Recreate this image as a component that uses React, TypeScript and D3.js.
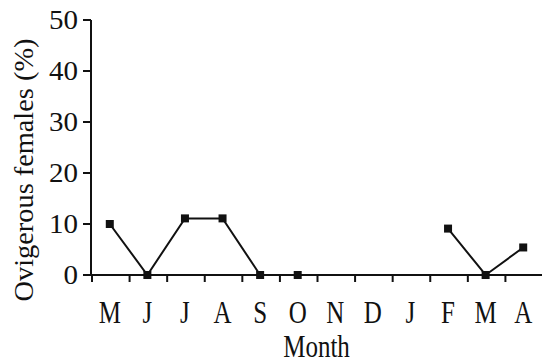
import React, { useRef, useEffect } from "react";
import * as d3 from "d3";

// Monthly share of ovigerous females; null = no sample that month
const months = ["M", "J", "J", "A", "S", "O", "N", "D", "J", "F", "M", "A"];
const ovigerous: (number | null)[] = [10, 0, 11.1, 11.1, 0, 0, null, null, null, 9.1, 0, 5.4];
const yTicks = [0, 10, 20, 30, 40, 50];

const WIDTH = 543;
const HEIGHT = 364;
const margin = { top: 20, right: 1, bottom: 89, left: 91 };

const App: React.FC = () => {
  const svgRef = useRef<SVGSVGElement>(null);

  useEffect(() => {
    if (!svgRef.current) return;
    const svg = d3.select(svgRef.current);
    svg.selectAll("*").remove();

    const font = "'Liberation Serif', 'Times New Roman', serif";
    const x0 = margin.left;
    const x1 = WIDTH - margin.right;
    const y0 = HEIGHT - margin.bottom;
    const y1 = margin.top;

    const xScale = d3
      .scaleBand<number>()
      .domain(months.map((_, i) => i))
      .range([x0, x1]);

    const yScale = d3.scaleLinear().domain([0, 50]).range([y0, y1]);

    const g = svg.append("g");

    // y axis
    g.append("line")
      .attr("x1", x0)
      .attr("x2", x0)
      .attr("y1", y1)
      .attr("y2", y0)
      .attr("stroke", "#111")
      .attr("stroke-width", 2);

    yTicks.forEach((t) => {
      const y = yScale(t);
      g.append("line")
        .attr("x1", x0 - 8)
        .attr("x2", x0)
        .attr("y1", y)
        .attr("y2", y)
        .attr("stroke", "#111")
        .attr("stroke-width", 2);
      g.append("text")
        .attr("transform", `translate(${x0 - 13},${y + 9}) scale(1,0.95)`)
        .attr("text-anchor", "end")
        .attr("font-family", font)
        .attr("font-size", 29)
        .attr("fill", "#111")
        .text(t);
    });

    // x axis
    g.append("line")
      .attr("x1", x0)
      .attr("x2", x1)
      .attr("y1", y0)
      .attr("y2", y0)
      .attr("stroke", "#111")
      .attr("stroke-width", 2);

    months.forEach((m, i) => {
      const left = xScale(i) || 0;
      g.append("line")
        .attr("x1", left + 1)
        .attr("x2", left + 1)
        .attr("y1", y0)
        .attr("y2", y0 + 7)
        .attr("stroke", "#111")
        .attr("stroke-width", 2);
      g.append("text")
        .attr("transform", `translate(${left + xScale.bandwidth() / 2},${y0 + 48}) scale(1,1.25)`)
        .attr("text-anchor", "middle")
        .attr("font-family", font)
        .attr("font-size", 25)
        .attr("fill", "#111")
        .text(m);
    });

    // axis titles
    g.append("text")
      .attr("transform", `translate(${(x0 + x1) / 2},${y0 + 82}) scale(1,1.25)`)
      .attr("text-anchor", "middle")
      .attr("font-family", font)
      .attr("font-size", 25)
      .attr("fill", "#111")
      .text("Month");

    g.append("text")
      .attr("transform", `translate(33,170) scale(1,1.05) rotate(-90)`)
      .attr("text-anchor", "middle")
      .attr("font-family", font)
      .attr("font-size", 27)
      .attr("fill", "#111")
      .text("Ovigerous females (%)");

    // data line with gaps
    const pts = ovigerous.map((v, i) => ({ i, v }));
    const line = d3
      .line<{ i: number; v: number | null }>()
      .defined((d) => d.v !== null)
      .x((d) => (xScale(d.i) || 0) + xScale.bandwidth() / 2)
      .y((d) => yScale(d.v as number));

    g.append("path")
      .datum(pts)
      .attr("fill", "none")
      .attr("stroke", "#111")
      .attr("stroke-width", 2)
      .attr("d", line);

    const size = 8;
    g.selectAll("rect.marker")
      .data(pts.filter((d) => d.v !== null))
      .enter()
      .append("rect")
      .attr("class", "marker")
      .attr("x", (d) => (xScale(d.i) || 0) + xScale.bandwidth() / 2 - size / 2)
      .attr("y", (d) => yScale(d.v as number) - size / 2)
      .attr("width", size)
      .attr("height", size)
      .attr("fill", "#111");
  }, []);

  return (
    <svg
      ref={svgRef}
      width={WIDTH}
      height={HEIGHT}
      style={{ position: "absolute", left: 0, top: 0, background: "#fff" }}
    />
  );
};

export default App;
